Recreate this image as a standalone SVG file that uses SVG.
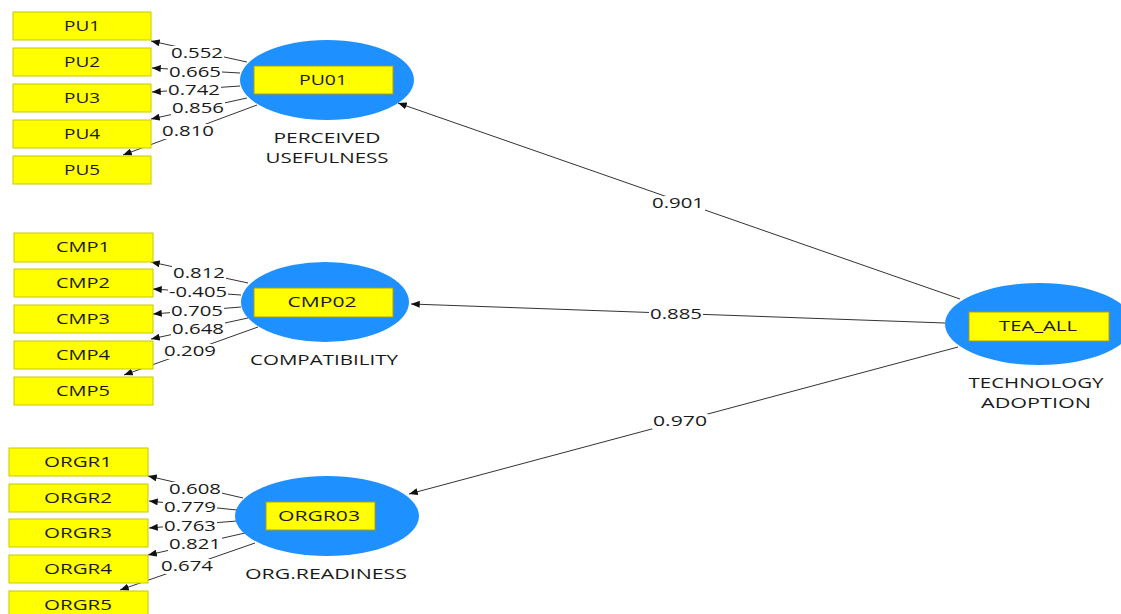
<svg xmlns="http://www.w3.org/2000/svg" width="1121" height="614" viewBox="0 0 1121 614">
<defs>
<marker id="ah" viewBox="0 0 10 8" refX="10" refY="4" markerWidth="9" markerHeight="7" markerUnits="userSpaceOnUse" orient="auto">
<path d="M0,0 L10,4 L0,8 Z" fill="#111"/>
</marker>
</defs>
<style>
text{font-family:"Open Sans","Liberation Sans",sans-serif;font-size:15px;fill:#1a1a1a;text-anchor:middle}
.ind{fill:#ffff00;stroke:#c8c800;stroke-width:1}
.lat{fill:#1e90ff}
.lbox{fill:#ffff00;stroke:#b0a000;stroke-width:1}
.cn line{stroke:#333;stroke-width:1;marker-end:url(#ah)}
.bg{fill:#fff}
</style>
<rect width="1121" height="614" fill="#fff"/>
<g id="connectors" class="cn">
<line x1="247" y1="62" x2="151" y2="41"/>
<line x1="240" y1="73" x2="152" y2="68"/>
<line x1="240" y1="86" x2="152" y2="92"/>
<line x1="247" y1="98" x2="151" y2="119"/>
<line x1="257" y1="105" x2="123" y2="155"/>
<line x1="248" y1="283" x2="151" y2="262"/>
<line x1="241" y1="295" x2="153" y2="289"/>
<line x1="241" y1="307" x2="153" y2="314"/>
<line x1="248" y1="318" x2="151" y2="339"/>
<line x1="258" y1="327" x2="124" y2="375"/>
<line x1="243" y1="498" x2="148" y2="476"/>
<line x1="237" y1="510" x2="149" y2="501"/>
<line x1="237" y1="521" x2="149" y2="528"/>
<line x1="245" y1="533" x2="148" y2="555"/>
<line x1="255" y1="543" x2="120" y2="590"/>
<line x1="960" y1="299" x2="398" y2="103"/>
<line x1="945" y1="323" x2="411" y2="304"/>
<line x1="958" y1="347" x2="409" y2="494"/>
<g id="coef">
<rect class="bg" x="170" y="46" width="54" height="15"/>
<rect class="bg" x="168" y="65" width="54" height="15"/>
<rect class="bg" x="167" y="83" width="54" height="15"/>
<rect class="bg" x="171" y="101" width="54" height="15"/>
<rect class="bg" x="161" y="124" width="54" height="15"/>
<rect class="bg" x="172" y="266" width="54" height="15"/>
<rect class="bg" x="168" y="285" width="60" height="15"/>
<rect class="bg" x="170" y="304" width="54" height="15"/>
<rect class="bg" x="171" y="322" width="54" height="15"/>
<rect class="bg" x="163" y="344" width="54" height="15"/>
<rect class="bg" x="168" y="482" width="54" height="15"/>
<rect class="bg" x="163" y="500" width="54" height="15"/>
<rect class="bg" x="163" y="519" width="54" height="15"/>
<rect class="bg" x="168" y="537" width="54" height="15"/>
<rect class="bg" x="160" y="559" width="54" height="15"/>
<rect class="bg" x="651" y="196" width="54" height="15"/>
<rect class="bg" x="649" y="307" width="54" height="15"/>
<rect class="bg" x="652" y="414" width="56" height="15"/>
<text x="197" y="58" textLength="52" lengthAdjust="spacingAndGlyphs">0.552</text>
<text x="195" y="77" textLength="52" lengthAdjust="spacingAndGlyphs">0.665</text>
<text x="194" y="95" textLength="52" lengthAdjust="spacingAndGlyphs">0.742</text>
<text x="198" y="113" textLength="52" lengthAdjust="spacingAndGlyphs">0.856</text>
<text x="188" y="136" textLength="52" lengthAdjust="spacingAndGlyphs">0.810</text>
<text x="199" y="278" textLength="52" lengthAdjust="spacingAndGlyphs">0.812</text>
<text x="198" y="297" textLength="58" lengthAdjust="spacingAndGlyphs">-0.405</text>
<text x="197" y="316" textLength="52" lengthAdjust="spacingAndGlyphs">0.705</text>
<text x="198" y="334" textLength="52" lengthAdjust="spacingAndGlyphs">0.648</text>
<text x="190" y="356" textLength="52" lengthAdjust="spacingAndGlyphs">0.209</text>
<text x="195" y="494" textLength="52" lengthAdjust="spacingAndGlyphs">0.608</text>
<text x="190" y="512" textLength="52" lengthAdjust="spacingAndGlyphs">0.779</text>
<text x="190" y="531" textLength="52" lengthAdjust="spacingAndGlyphs">0.763</text>
<text x="195" y="549" textLength="52" lengthAdjust="spacingAndGlyphs">0.821</text>
<text x="187" y="571" textLength="52" lengthAdjust="spacingAndGlyphs">0.674</text>
<text x="678" y="208" textLength="52" lengthAdjust="spacingAndGlyphs">0.901</text>
<text x="676" y="319" textLength="52" lengthAdjust="spacingAndGlyphs">0.885</text>
<text x="680" y="426" textLength="54" lengthAdjust="spacingAndGlyphs">0.970</text>
</g>
</g>
<g id="PU1"><rect class="ind" x="13" y="12" width="138" height="28"/><text x="82" y="31" textLength="36" lengthAdjust="spacingAndGlyphs">PU1</text></g>
<g id="PU2"><rect class="ind" x="13" y="48" width="138" height="28"/><text x="82" y="67" textLength="36" lengthAdjust="spacingAndGlyphs">PU2</text></g>
<g id="PU3"><rect class="ind" x="13" y="84" width="138" height="28"/><text x="82" y="103" textLength="36" lengthAdjust="spacingAndGlyphs">PU3</text></g>
<g id="PU4"><rect class="ind" x="13" y="120" width="138" height="28"/><text x="82" y="139" textLength="36" lengthAdjust="spacingAndGlyphs">PU4</text></g>
<g id="PU5"><rect class="ind" x="13" y="156" width="138" height="28"/><text x="82" y="175" textLength="36" lengthAdjust="spacingAndGlyphs">PU5</text></g>
<g id="CMP1"><rect class="ind" x="14" y="233" width="139" height="29"/><text x="83" y="252" textLength="54" lengthAdjust="spacingAndGlyphs">CMP1</text></g>
<g id="CMP2"><rect class="ind" x="14" y="269" width="139" height="28"/><text x="83" y="288" textLength="54" lengthAdjust="spacingAndGlyphs">CMP2</text></g>
<g id="CMP3"><rect class="ind" x="14" y="305" width="139" height="28"/><text x="83" y="324" textLength="54" lengthAdjust="spacingAndGlyphs">CMP3</text></g>
<g id="CMP4"><rect class="ind" x="14" y="341" width="139" height="28"/><text x="83" y="360" textLength="54" lengthAdjust="spacingAndGlyphs">CMP4</text></g>
<g id="CMP5"><rect class="ind" x="14" y="377" width="139" height="28"/><text x="83" y="396" textLength="54" lengthAdjust="spacingAndGlyphs">CMP5</text></g>
<g id="ORGR1"><rect class="ind" x="9" y="448" width="139" height="28"/><text x="78" y="467" textLength="68" lengthAdjust="spacingAndGlyphs">ORGR1</text></g>
<g id="ORGR2"><rect class="ind" x="9" y="484" width="139" height="28"/><text x="78" y="503" textLength="68" lengthAdjust="spacingAndGlyphs">ORGR2</text></g>
<g id="ORGR3"><rect class="ind" x="9" y="519" width="139" height="28"/><text x="78" y="538" textLength="68" lengthAdjust="spacingAndGlyphs">ORGR3</text></g>
<g id="ORGR4"><rect class="ind" x="9" y="555" width="139" height="28"/><text x="78" y="574" textLength="68" lengthAdjust="spacingAndGlyphs">ORGR4</text></g>
<g id="ORGR5"><rect class="ind" x="9" y="591" width="139" height="28"/><text x="78" y="610" textLength="68" lengthAdjust="spacingAndGlyphs">ORGR5</text></g>
<g id="PU01">
<ellipse class="lat" cx="327" cy="80" rx="87" ry="40"/>
<rect class="lbox" x="254" y="66" width="139" height="28"/>
<text x="323" y="85" textLength="48" lengthAdjust="spacingAndGlyphs">PU01</text>
<text x="327" y="143" textLength="107" lengthAdjust="spacingAndGlyphs">PERCEIVED</text>
<text x="327" y="163" textLength="123" lengthAdjust="spacingAndGlyphs">USEFULNESS</text>
</g>
<g id="CMP02">
<ellipse class="lat" cx="325" cy="302" rx="84" ry="40"/>
<rect class="lbox" x="254" y="288" width="139" height="29"/>
<text x="322" y="307" textLength="69" lengthAdjust="spacingAndGlyphs">CMP02</text>
<text x="324" y="365" textLength="148" lengthAdjust="spacingAndGlyphs">COMPATIBILITY</text>
</g>
<g id="ORGR03">
<ellipse class="lat" cx="327" cy="516" rx="92" ry="40"/>
<rect class="lbox" x="266" y="502" width="109" height="28"/>
<text x="319" y="521" textLength="82" lengthAdjust="spacingAndGlyphs">ORGR03</text>
<text x="326" y="579" textLength="162" lengthAdjust="spacingAndGlyphs">ORG.READINESS</text>
</g>
<g id="TEA_ALL">
<ellipse class="lat" cx="1039" cy="324" rx="94" ry="41"/>
<rect class="lbox" x="969" y="312" width="140" height="29"/>
<text x="1038" y="331" textLength="78" lengthAdjust="spacingAndGlyphs">TEA_ALL</text>
<text x="1036" y="388" textLength="135" lengthAdjust="spacingAndGlyphs">TECHNOLOGY</text>
<text x="1036" y="408" textLength="110" lengthAdjust="spacingAndGlyphs">ADOPTION</text>
</g>
</svg>
